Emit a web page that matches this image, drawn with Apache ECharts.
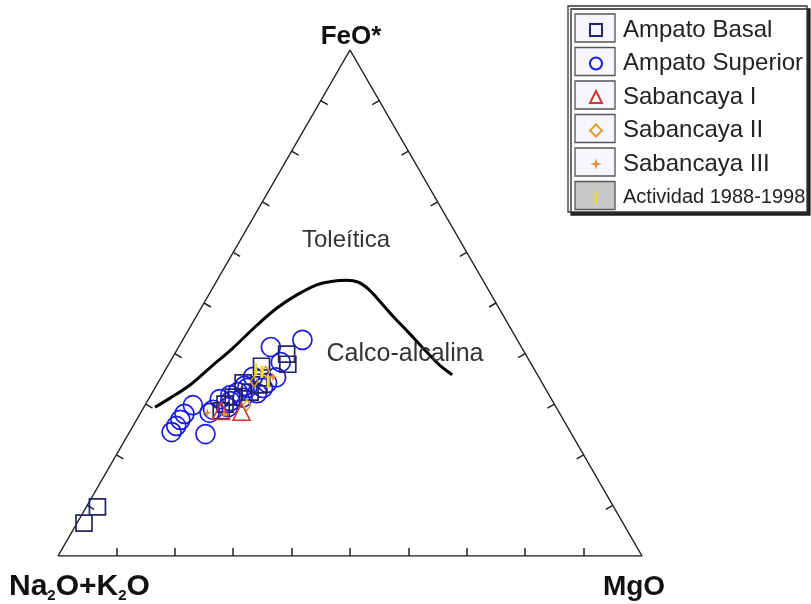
<!DOCTYPE html>
<html><head><meta charset="utf-8">
<script src="https://cdn.jsdelivr.net/npm/echarts@6/dist/echarts.min.js"></script>
<style>html,body{margin:0;background:#fff}#c{width:811px;height:604px}</style>
</head><body><div id="c"></div>
<script>
// All compositions as [Na2O+K2O, FeO*, MgO] in %
const boundaryCurve = [
  [68.7,29.4,1.9],[65.2,31.2,3.6],[60.5,33.8,5.7],[55.4,37.2,7.4],[49.5,41.1,9.4],
  [43.0,45.7,11.3],[38.0,49.0,13.0],[33.3,51.6,15.1],[28.9,53.6,17.5],[25.8,54.3,19.9],
  [23.3,54.5,22.2],[21.5,54.1,24.4],[20.5,52.8,26.7],[19.9,51.0,29.1],[19.0,47.6,33.4],
  [17.8,43.9,38.3],[16.7,40.3,43.0],[15.8,37.7,46.5],[14.6,35.8,49.6]
];
const ampatoBasal = [
  [88.4,9.7,1.9],[92.3,6.5,1.2],[46.4,37.5,16.1],[40.9,39.9,19.2],[41.7,37.9,20.4],
  [51.2,34.2,14.6],[48.7,33.8,17.5],[50.9,32.4,16.7],[56.4,30.0,13.6],[54.3,31.4,14.3],
  [47.5,35.2,17.3],[57.7,28.7,13.6]
];
const ampatoSuperior = [
  [36.8,42.7,20.5],[42.9,41.3,15.8],[42.7,38.3,19.0],[48.9,35.4,15.7],[51.0,33.2,15.8],
  [54.6,31.8,13.6],[55.2,30.6,14.2],[56.8,31.0,12.2],[48.3,33.2,18.5],[52.1,34.2,15.4],
  [49.8,32.2,18.0],[53.0,32.4,14.6],[59.0,28.9,12.1],[62.0,29.8,8.2],[64.3,28.1,7.6],
  [65.6,26.9,7.5],[66.9,25.7,7.4],[68.3,24.5,7.2],[62.7,24.1,13.2],[59.9,28.3,11.8],
  [52.6,31.2,15.9],[47.1,34.2,18.7],[56.2,29.4,14.4],[44.1,34.6,19.3]
];
const sabancayaI = [[52.8,27.7,16.7],[58.2,28.9,13.7]];
const sabancayaII = [[46.2,36.4,17.4],[49.6,34.8,16.5],[51.5,29.1,17.0]];
const sabancayaIII = [[60.3,28.3,11.4],[45.5,35.4,19.1],[57.6,28.1,14.4]];
const actividad = [[46.9,36.4,16.7],[46.8,34.4,18.8],[48.2,37.2,15.6]];
const tickValues = [10,20,30,40,50,60,70,80,90];
const seriesNames = ['Ampato Basal','Ampato Superior','Sabancaya I','Sabancaya II','Sabancaya III','Actividad 1988-1998'];

const SQ = Math.sqrt(3)/2;
function tern(p){ const s=p[0]+p[1]+p[2]; const f=p[1]/s, m=p[2]/s; return [m+f/2, f*SQ]; }
const TL = 8/584;
const ticks = [];
tickValues.forEach(v=>{
  let b = tern([100-v,0,v]); ticks.push({coords:[b,[b[0],b[1]+TL]]});
  let l = tern([100-v,v,0]); ticks.push({coords:[l,[l[0]+TL*SQ,l[1]-TL*0.5]]});
  let r = tern([0,v,100-v]); ticks.push({coords:[r,[r[0]-TL*SQ,r[1]-TL*0.5]]});
});
const FONT = '"Liberation Sans", Arial, sans-serif';
const starPath = 'path://M5,0 L6,4 L10,5 L6,6 L5,10 L4,6 L0,5 L4,4 Z';
const barPath = 'path://M0,0 L2,0 L2,10 L0,10 Z';

const legendBoxes = [];
for (let i=0;i<6;i++){
  legendBoxes.push({type:'rect', z:1, shape:{x:575,y:14+33.5*i,width:40,height:28},
    style:{fill: i===5?'#c8c8c8':'#f6f6fc', stroke:'#555', lineWidth:1.3}});
}

const chart = echarts.init(document.getElementById('c'), null, {renderer:'canvas'});
chart.setOption({
  animation:false,
  grid:{left:58,right:169,top:50,bottom:48},
  xAxis:{type:'value',min:0,max:1,show:false},
  yAxis:{type:'value',min:0,max:SQ,show:false},
  legend:{
    orient:'vertical', left:589, top:16, padding:0, itemGap:5.5,
    itemWidth:12, itemHeight:12, selectedMode:false,
    textStyle:{fontSize:24,fontFamily:FONT,color:'#222',padding:[0,0,0,16],lineHeight:28},
    data:[
      {name:seriesNames[0]},{name:seriesNames[1]},{name:seriesNames[2]},
      {name:seriesNames[3]},{name:seriesNames[4]},
      {name:seriesNames[5], textStyle:{fontSize:20}}
    ]
  },
  graphic:[
    {type:'rect', z:0, shape:{x:568,y:6,width:239,height:206},
     style:{fill:'#fff',stroke:'#333',lineWidth:1.3,shadowColor:'#222',shadowOffsetX:3,shadowOffsetY:3,shadowBlur:0}},
    ...legendBoxes,
    {type:'text', z:5, style:{text:'FeO*', x:351, y:37, font:'bold 26px '+FONT, fill:'#111', align:'center', verticalAlign:'middle'}},
    {type:'text', z:5, style:{text:'MgO', x:634, y:587, font:'bold 28px '+FONT, fill:'#111', align:'center', verticalAlign:'middle'}},
    {type:'text', z:5, style:{text:'{a|Na}{s|2}{a|O+K}{s|2}{a|O}', x:9, y:587, align:'left', verticalAlign:'middle',
      rich:{a:{font:'bold 30px '+FONT, fill:'#111'}, s:{font:'bold 15px '+FONT, fill:'#111', padding:[17,0,0,0]}}}},
    {type:'text', z:5, style:{text:'Toleítica', x:346, y:240, font:'24px '+FONT, fill:'#333', align:'center', verticalAlign:'middle'}},
    {type:'text', z:5, style:{text:'Calco-alcalina', x:405, y:354, font:'25px '+FONT, fill:'#333', align:'center', verticalAlign:'middle'}}
  ],
  series:[
    {type:'line', silent:true, data:[tern([100,0,0]),tern([0,100,0]),tern([0,0,100]),tern([100,0,0])],
     symbol:'none', lineStyle:{color:'#222',width:1.5}, z:2},
    {type:'lines', coordinateSystem:'cartesian2d', silent:true, data:ticks, lineStyle:{color:'#222',width:1.5,opacity:1}, z:2},
    {type:'line', silent:true, data:boundaryCurve.map(tern), smooth:0.35, symbol:'none', lineStyle:{color:'#000',width:3}, z:2},
    {name:seriesNames[1], type:'scatter', data:ampatoSuperior.map(tern), symbol:'circle', symbolSize:19,
     itemStyle:{color:'rgba(0,0,0,0)', borderColor:'#1a1ae0', borderWidth:1.7, opacity:1}, z:3},
    {name:seriesNames[0], type:'scatter', data:ampatoBasal.map(tern), symbol:'rect', symbolSize:16,
     itemStyle:{color:'rgba(0,0,0,0)', borderColor:'#24246a', borderWidth:1.7, opacity:1}, z:4},
    {name:seriesNames[2], type:'scatter', data:sabancayaI.map(tern), symbol:'triangle', symbolSize:17,
     itemStyle:{color:'rgba(0,0,0,0)', borderColor:'#d03838', borderWidth:1.6, opacity:1}, z:4},
    {name:seriesNames[3], type:'scatter', data:sabancayaII.map(tern), symbol:'diamond', symbolSize:[8,11],
     itemStyle:{color:'rgba(0,0,0,0)', borderColor:'#d8a030', borderWidth:1.5, opacity:1}, z:4},
    {name:seriesNames[4], type:'scatter', data:sabancayaIII.map(tern), symbol:starPath, symbolSize:10,
     itemStyle:{color:'#e8883a', opacity:1}, z:4},
    {name:seriesNames[5], type:'scatter', data:actividad.map(tern), symbol:barPath, symbolSize:[3,12],
     itemStyle:{color:'#eedd22', opacity:1}, z:4}
  ]
});
</script></body></html>
